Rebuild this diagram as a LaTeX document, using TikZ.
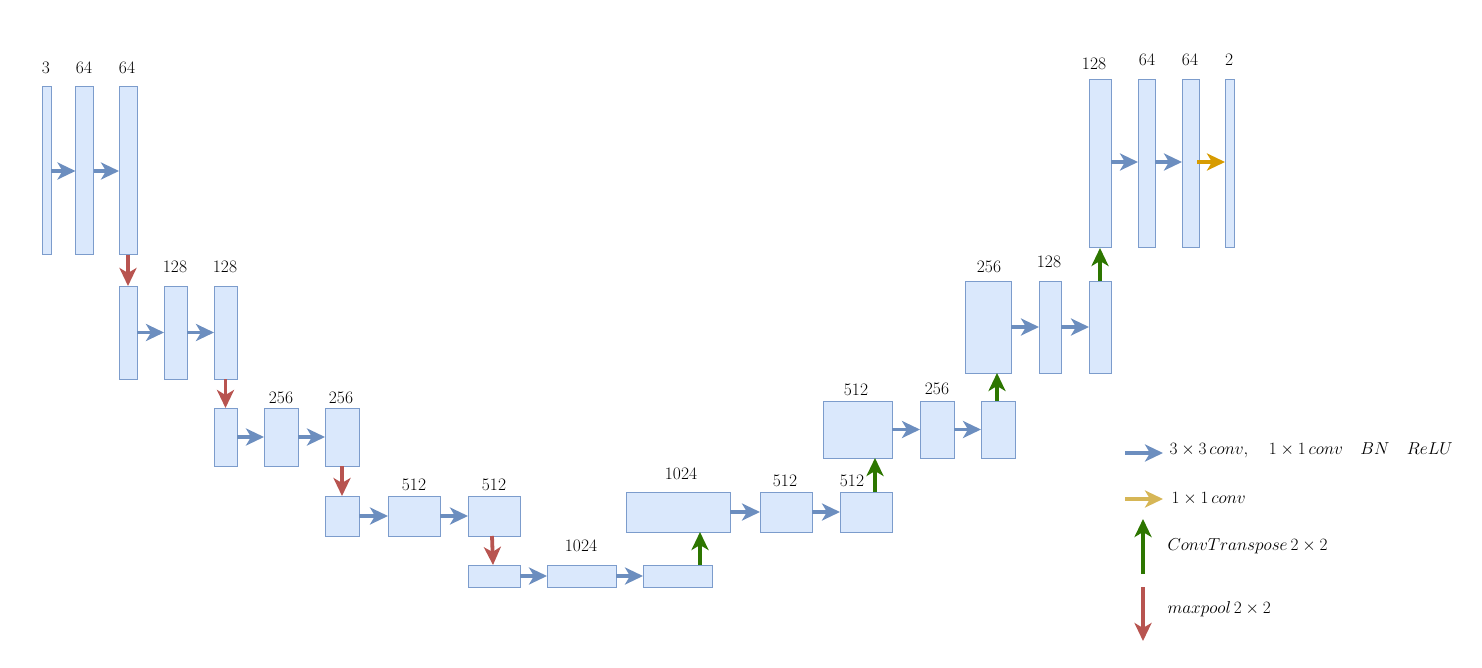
\documentclass[tikz,border=0pt]{standalone}
\usepackage{amsmath}
\usepackage{amssymb}
\usetikzlibrary{arrows.meta,positioning,calc}

\definecolor{boxfill}{HTML}{DAE8FC}
\definecolor{boxline}{HTML}{7C9CCC}
\definecolor{arrowblue}{HTML}{6C8EBF}
\definecolor{poolred}{HTML}{B85450}
\definecolor{upgreen}{HTML}{2D7600}
\definecolor{outorange}{HTML}{D79B00}
\definecolor{leggold}{HTML}{D6B656}

\begin{document}
\begin{tikzpicture}[x=1pt, y=-1pt,
  every node/.style={font=\fontsize{17.5}{20}\selectfont},
  blk/.style={draw=boxline, fill=boxfill, line width=1pt, inner sep=0pt, outer sep=0pt},
  tip/.style={-{Stealth[length=18pt,width=17pt,inset=5pt]}, line width=3.8pt},
  conv/.style={tip, draw=arrowblue},
  pool/.style={tip, draw=poolred},
  up/.style={tip, draw=upgreen},
  last/.style={tip, draw=outorange}]
\useasboundingbox (0,0) rectangle (1482,668);

% encoder
\node[blk, minimum width=9pt,  minimum height=168pt] (a1) at (46.5,171) {};
\node[blk, minimum width=18pt, minimum height=168pt] (a2) at (84.5,171) {};
\node[blk, minimum width=18pt, minimum height=168pt] (a3) at (128,171) {};
\node (la1) at (46,68) {3};
\node (la2) at (84,68) {64};
\node (la3) at (127,68) {64};

\node[blk, minimum width=18pt, minimum height=93pt] (b1) at (128,332.5) {};
\node[blk, minimum width=23pt, minimum height=93pt] (b2) at (175.5,332.5) {};
\node[blk, minimum width=23pt, minimum height=93pt] (b3) at (225.5,332.5) {};
\node (lb2) at (175,267) {128};
\node (lb3) at (225,267) {128};

\node[blk, minimum width=23pt, minimum height=58pt] (c1) at (225.5,437) {};
\node[blk, minimum width=34pt, minimum height=58pt] (c2) at (281,437) {};
\node[blk, minimum width=34pt, minimum height=58pt] (c3) at (342,437) {};
\node (lc2) at (281,398) {256};
\node (lc3) at (341,398) {256};

\node[blk, minimum width=34pt, minimum height=40pt] (d1) at (342,516) {};
\node[blk, minimum width=52pt, minimum height=40pt] (d2) at (414,516) {};
\node[blk, minimum width=52pt, minimum height=40pt] (d3) at (494,516) {};
\node (ld2) at (414,485) {512};
\node (ld3) at (494,485) {512};

% bottom
\node[blk, minimum width=52pt, minimum height=22pt] (e1) at (494,576) {};
\node[blk, minimum width=69pt, minimum height=22pt] (e2) at (581.5,576) {};
\node[blk, minimum width=69pt, minimum height=22pt] (e3) at (677.5,576) {};
\node (le2) at (581,546) {1024};

% decoder
\node[blk, minimum width=104pt, minimum height=40pt] (f1) at (678,512) {};
\node[blk, minimum width=52pt,  minimum height=40pt] (f2) at (786,512) {};
\node[blk, minimum width=52pt,  minimum height=40pt] (f3) at (866,512) {};
\node (lf1) at (681,474) {1024};
\node (lf2) at (785,481) {512};
\node (lf3) at (852,481) {512};

\node[blk, minimum width=69pt, minimum height=57pt] (g1) at (857.5,429.5) {};
\node[blk, minimum width=34pt, minimum height=57pt] (g2) at (937,429.5) {};
\node[blk, minimum width=34pt, minimum height=57pt] (g3) at (998,429.5) {};
\node (lg1) at (856,390) {512};
\node (lg2) at (937,389) {256};

\node[blk, minimum width=46pt, minimum height=92pt] (h1) at (988,327) {};
\node[blk, minimum width=22pt, minimum height=92pt] (h2) at (1050,327) {};
\node[blk, minimum width=22pt, minimum height=92pt] (h3) at (1100,327) {};
\node (lh1) at (989,267) {256};
\node (lh2) at (1049,262) {128};

\node[blk, minimum width=22pt, minimum height=168pt] (i1) at (1100,164) {};
\node[blk, minimum width=17pt, minimum height=168pt] (i2) at (1146.5,164) {};
\node[blk, minimum width=17pt, minimum height=168pt] (i3) at (1190.5,164) {};
\node[blk, minimum width=9pt,  minimum height=168pt] (i4) at (1229.5,164) {};
\node (li1) at (1094,64) {128};
\node (li2) at (1147,60) {64};
\node (li3) at (1190,60) {64};
\node (li4) at (1229,60) {2};

% convolutions
\draw[conv] (a1) -- (a2);
\draw[conv] (a2) -- (a3);
\draw[conv] (b1) -- (b2);
\draw[conv] (b2) -- (b3);
\draw[conv] (c1) -- (c2);
\draw[conv] (c2) -- (c3);
\draw[conv] (d1) -- (d2);
\draw[conv] (d2) -- (d3);
\draw[conv] (e1) -- (e2);
\draw[conv] (e2) -- (e3);
\draw[conv] (f1) -- (f2);
\draw[conv] (f2) -- (f3);
\draw[conv] (g1) -- (g2);
\draw[conv] (g2) -- (g3);
\draw[conv] (h1) -- (h2);
\draw[conv] (h2) -- (h3);
\draw[conv] ([yshift=2pt]i1.east) -- ([yshift=2pt]i2.west);
\draw[conv] ([yshift=2pt]i2.east) -- ([yshift=2pt]i3.west);
\draw[last] ([xshift=-2pt,yshift=2pt]i3.east) -- ([yshift=2pt]i4.west);

% pooling
\draw[pool] (a3) -- (b1);
\draw[pool] (b3) -- (c1);
\draw[pool] (c3) -- (d1);
\draw[pool] ([xshift=-2pt]d3.south) -- ([xshift=-1pt]e1.north);

% up-convolutions
\draw[up] ([xshift=22.5pt]e3.north) -- ([xshift=22.5pt]e3.north |- f1.south);
\draw[up] ([xshift=9pt]f3.north) -- ([xshift=9pt]f3.north |- g1.south);
\draw[up] ([xshift=-1pt]g3.north) -- ([xshift=-1pt]g3.north |- h1.south);
\draw[up] (h3) -- (i1);

% legend
\coordinate (k1s) at (1125,453);
\coordinate (k1e) at (1163,453);
\coordinate (k2s) at (1125,499);
\coordinate (k2e) at (1163,499);
\coordinate (k3s) at (1143,574);
\coordinate (k3e) at (1143,519);
\coordinate (k4s) at (1143,587);
\coordinate (k4e) at (1143,641);
\draw[conv] (k1s) -- (k1e);
\draw[tip, draw=leggold] (k2s) -- (k2e);
\draw[up] (k3s) -- (k3e);
\draw[pool] (k4s) -- (k4e);
\node[anchor=west] (t1) at (1166,450) {$3\times3\,conv,\quad 1\times1\,conv\quad BN\quad ReLU$};
\node[anchor=west] (t2) at (1168,499) {$1\times1\,conv$};
\node[anchor=west] (t3) at (1164,546) {$ConvTranspose\,2\times2$};
\node[anchor=west] (t4) at (1164,609) {$maxpool\,2\times2$};
\end{tikzpicture}
\end{document}
